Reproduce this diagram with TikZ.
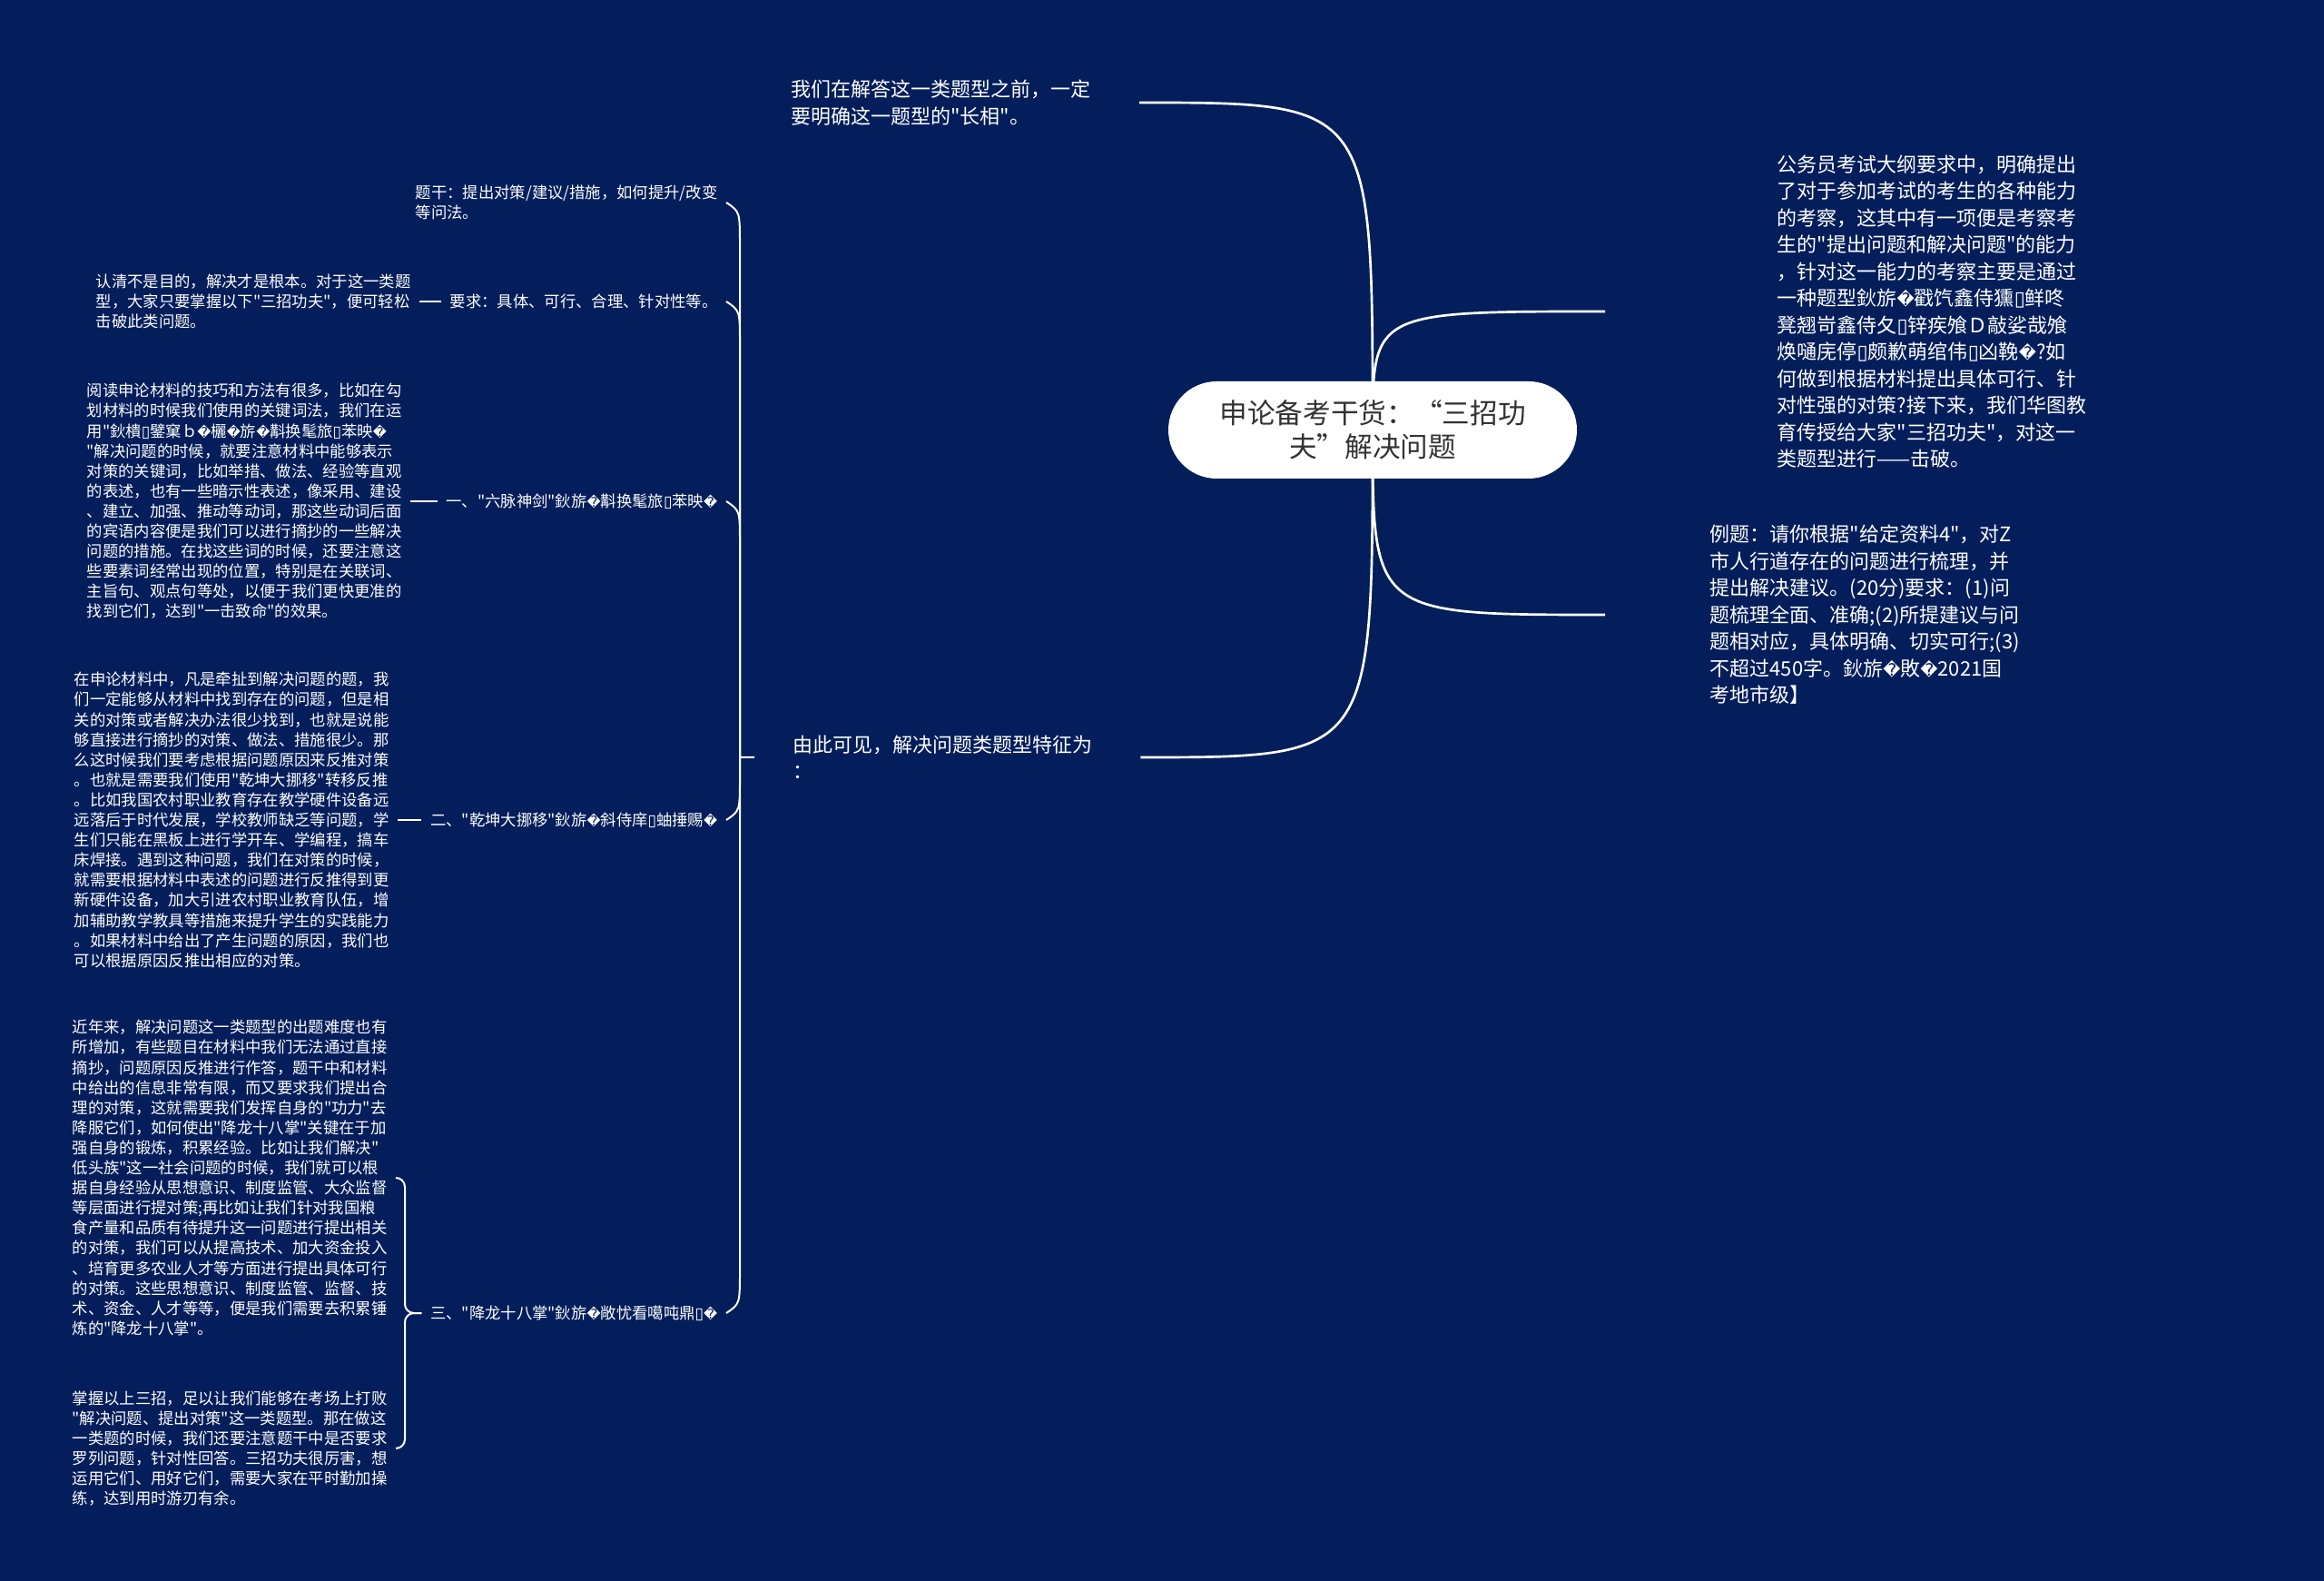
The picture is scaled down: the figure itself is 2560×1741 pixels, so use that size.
\documentclass[tikz,border=0pt]{standalone}
\usepackage{graphicx}
\usepackage{fontspec}
\setmainfont{Noto Sans CJK SC}[Ligatures=TeXOff]
\newfontfamily\dvfont{DejaVu Sans}
\newcommand\qmk{\scalebox{0.85}{\dvfont\char"FFFD}}
\newcommand\tofu{{\dvfont\char"25AF}}
\definecolor{bgnavy}{HTML}{031E5B}
\definecolor{ctext}{HTML}{333333}
\pgfdeclarelayer{back}
\pgfdeclarelayer{lines}
\pgfsetlayers{back,lines,main}
\tikzset{
  bigtxt/.style={text=white, font=\fontsize{6.6pt}{8.85pt}\selectfont, align=left, inner ysep=2pt},
  smalltxt/.style={text=white, font=\fontsize{5.2pt}{6.63pt}\selectfont, align=left, inner xsep=2.7pt, inner ysep=1pt},
  rootnode/.style={fill=white, text=ctext, rounded corners=16pt, minimum width=135pt, minimum height=32.1pt, align=center, font=\fontsize{9.2pt}{11.1pt}\selectfont},
  mainconn/.style={draw=white, line width=0.8pt},
  subconn/.style={draw=white, line width=0.6pt},
  bracketconn/.style={draw=white, line width=0.6pt, rounded corners=3pt},
}
\begin{document}
\begin{tikzpicture}[x=0.3pt,y=-0.3pt]
\begin{pgfonlayer}{back}
\fill[bgnavy] (0,0) rectangle (2560,1741);
\end{pgfonlayer}
\useasboundingbox (0,0) rectangle (2560,1741);

% root
\node[rootnode] (c) at (1512,473.5) {申论备考干货：“三招功\\夫”解决问题};

% first level
\node[bigtxt, anchor=east, inner xsep=15.9pt] (l1) at (1255,113) {我们在解答这一类题型之前，一定\\要明确这一题型的"长相"。};
\node[bigtxt, anchor=west, inner xsep=12.6pt, text width=102pt] (l2) at (831,834) {由此可见，解决问题类题型特征为\\：};
\node[bigtxt, anchor=west, inner xsep=56.7pt] (r1) at (1768,343) {公务员考试大纲要求中，明确提出\\了对于参加考试的考生的各种能力\\的考察，这其中有一项便是考察考\\生的"提出问题和解决问题"的能力\\，针对这一能力的考察主要是通过\\一种题型鈥旂\qmk 戳饩鑫侍獯\tofu 鲜咚\\凳翘岢鑫侍夂\tofu 锌疾飧Ｄ敲娑哉飧\\焕嗵庑停\tofu 颇歉萌绾伟\tofu 凶鞔\qmk ?如\\何做到根据材料提出具体可行、针\\对性强的对策?接下来，我们华图教\\育传授给大家"三招功夫"，对这一\\类题型进行——击破。};
\node[bigtxt, anchor=west, inner xsep=34.5pt] (r2) at (1768,677) {例题：请你根据"给定资料4"，对Z\\市人行道存在的问题进行梳理，并\\提出解决建议。(20分)要求：(1)问\\题梳理全面、准确;(2)所提建议与问\\题相对应，具体明确、切实可行;(3)\\不超过450字。鈥旂\qmk 敗\qmk 2021国\\考地市级】};

% second level (children of l2)
\node[smalltxt, anchor=east] (t1) at (800,223) {题干：提出对策/建议/措施，如何提升/改变\\等问法。};
\node[smalltxt, anchor=east] (t2) at (800,332) {要求：具体、可行、合理、针对性等。};
\node[smalltxt, anchor=east] (t3) at (800,552) {一、"六脉神剑"鈥旂\qmk 斠换髦旅\tofu 苯映\qmk};
\node[smalltxt, anchor=east] (t4) at (800,903) {二、"乾坤大挪移"鈥旂\qmk 斜侍庠\tofu 蚰捶赐\qmk};
\node[smalltxt, anchor=east] (t5) at (800,1446) {三、"降龙十八掌"鈥旂\qmk 敞忧看噶吨鼎\tofu\qmk};

% third level
\node[smalltxt, anchor=east] (k2) at (462,332) {认清不是目的，解决才是根本。对于这一类题\\型，大家只要掌握以下"三招功夫"，便可轻松\\击破此类问题。};
\node[smalltxt, anchor=east] (k3) at (452,552) {阅读申论材料的技巧和方法有很多，比如在勾\\划材料的时候我们使用的关键词法，我们在运\\用"鈥樻\tofu 鐾窠ｂ\qmk 欐\qmk 旂\qmk 斠换髦旅\tofu 苯映\qmk\\"解决问题的时候，就要注意材料中能够表示\\对策的关键词，比如举措、做法、经验等直观\\的表述，也有一些暗示性表述，像采用、建设\\、建立、加强、推动等动词，那这些动词后面\\的宾语内容便是我们可以进行摘抄的一些解决\\问题的措施。在找这些词的时候，还要注意这\\些要素词经常出现的位置，特别是在关联词、\\主旨句、观点句等处，以便于我们更快更准的\\找到它们，达到"一击致命"的效果。};
\node[smalltxt, anchor=east] (k4) at (438,903) {在申论材料中，凡是牵扯到解决问题的题，我\\们一定能够从材料中找到存在的问题，但是相\\关的对策或者解决办法很少找到，也就是说能\\够直接进行摘抄的对策、做法、措施很少。那\\么这时候我们要考虑根据问题原因来反推对策\\。也就是需要我们使用"乾坤大挪移"转移反推\\。比如我国农村职业教育存在教学硬件设备远\\远落后于时代发展，学校教师缺乏等问题，学\\生们只能在黑板上进行学开车、学编程，搞车\\床焊接。遇到这种问题，我们在对策的时候，\\就需要根据材料中表述的问题进行反推得到更\\新硬件设备，加大引进农村职业教育队伍，增\\加辅助教学教具等措施来提升学生的实践能力\\。如果材料中给出了产生问题的原因，我们也\\可以根据原因反推出相应的对策。};
\node[smalltxt, anchor=east] (k5) at (436,1297) {近年来，解决问题这一类题型的出题难度也有\\所增加，有些题目在材料中我们无法通过直接\\摘抄，问题原因反推进行作答，题干中和材料\\中给出的信息非常有限，而又要求我们提出合\\理的对策，这就需要我们发挥自身的"功力"去\\降服它们，如何使出"降龙十八掌"关键在于加\\强自身的锻炼，积累经验。比如让我们解决"\\低头族"这一社会问题的时候，我们就可以根\\据自身经验从思想意识、制度监管、大众监督\\等层面进行提对策;再比如让我们针对我国粮\\食产量和品质有待提升这一问题进行提出相关\\的对策，我们可以从提高技术、加大资金投入\\、培育更多农业人才等方面进行提出具体可行\\的对策。这些思想意识、制度监管、监督、技\\术、资金、人才等等，便是我们需要去积累锤\\炼的"降龙十八掌"。};
\node[smalltxt, anchor=east] (k6) at (436,1595) {掌握以上三招，足以让我们能够在考场上打败\\"解决问题、提出对策"这一类题型。那在做这\\一类题的时候，我们还要注意题干中是否要求\\罗列问题，针对性回答。三招功夫很厉害，想\\运用它们、用好它们，需要大家在平时勤加操\\练，达到用时游刃有余。};

\coordinate (sp) at (815,834);
\coordinate (sp3) at (446,1446);

\begin{pgfonlayer}{lines}
\draw[mainconn] (c.center) .. controls (1512,113) .. (l1.east);
\draw[mainconn] (c.center) .. controls (1512,834) .. (l2.east);
\draw[mainconn] (c.center) .. controls (1512,343) .. (r1.west);
\draw[mainconn] (c.center) .. controls (1512,677) .. (r2.west);
\end{pgfonlayer}

% spine from l2 to its children
\draw[subconn] (l2.west) -- (sp) -- (815,270) .. controls (815,233) .. (t1.east);
\draw[subconn] (sp) -- (815,379) .. controls (815,342) .. (t2.east);
\draw[subconn] (sp) -- (815,599) .. controls (815,562) .. (t3.east);
\draw[subconn] (sp) -- (815,856) .. controls (815,893) .. (t4.east);
\draw[subconn] (sp) -- (815,1399) .. controls (815,1436) .. (t5.east);

\draw[subconn] (t2.west) -- (k2.east);
\draw[subconn] (t3.west) -- (k3.east);
\draw[subconn] (t4.west) -- (k4.east);
\draw[bracketconn] (t5.west) -- (sp3) |- (k5.east);
\draw[bracketconn] (t5.west) -- (sp3) |- (k6.east);
\end{tikzpicture}
\end{document}
